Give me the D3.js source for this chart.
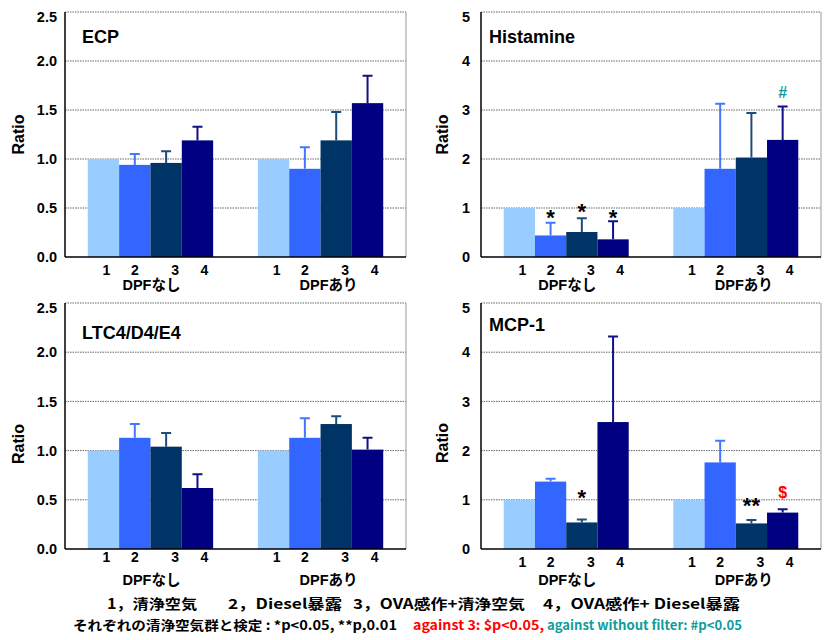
<!DOCTYPE html>
<html>
<head>
<meta charset="utf-8">
<script src="https://cdn.jsdelivr.net/npm/d3@7"></script>
<style>
  body { margin: 0; background: #fff; }
  svg { display: block; font-family: "Liberation Sans", Arial, "Noto Sans CJK JP", sans-serif; font-weight: bold; }
</style>
</head>
<body>
<div id="chart"></div>
<script>
// groups and treatments (1..4)
const groups = ["DPFなし", "DPFあり"];
const treatments = ["1", "2", "3", "4"];

// mean ratio per group, treatments 1..4
const ecpMean = [[1.00, 0.94, 0.96, 1.19], [1.00, 0.90, 1.19, 1.57]];
const ecpErr  = [[0, 0.11, 0.12, 0.14], [0, 0.22, 0.29, 0.28]];

const histMean = [[1.00, 0.44, 0.51, 0.36], [1.00, 1.80, 2.03, 2.39]];
const histErr  = [[0, 0.26, 0.28, 0.37], [0, 1.33, 0.91, 0.68]];

const ltcMean = [[1.00, 1.13, 1.04, 0.62], [1.00, 1.13, 1.27, 1.01]];
const ltcErr  = [[0, 0.14, 0.14, 0.14], [0, 0.20, 0.08, 0.12]];

const mcpMean = [[1.00, 1.37, 0.54, 2.58], [1.00, 1.76, 0.52, 0.74]];
const mcpErr  = [[0, 0.06, 0.06, 1.74], [0, 0.44, 0.07, 0.07]];

// significance marks: [group, treatment, text, level (ratio units), kind]
const histMarks = [[0, 1, "*", 0.90, "p"], [0, 2, "*", 1.04, "p"], [0, 3, "*", 0.90, "p"], [1, 3, "#", 3.35, "filter"]];
const mcpMarks  = [[0, 2, "*", 1.14, "p"], [1, 2, "**", 0.99, "p"], [1, 3, "$", 1.14, "vs3"]];

const barColors = ["#99ccff", "#3366ff", "#003366", "#000080"];
const errColors = ["none", "#4477ff", "#204c78", "#10108a"];
const markColors = { p: "#000", vs3: "#ff0000", filter: "#109c9c" };

// small nudges of the 1..4 labels and the group labels, as in the original
const tickNudge = [3, 0, 9, 7];
const groupNudge = [1, 8];

const panels = [
  { title: "ECP", mean: ecpMean, err: ecpErr, marks: [], yMax: 2.5, ticks: [0, 0.5, 1, 1.5, 2, 2.5], fmt: d3.format(".1f"),
    left: 65, right: 406, top: 12, bottom: 257, titleDx: 17, titleDy: 31, pad: 8, ratioDx: -47, ratioDy: 0, numDy: 18, grpDy: 33 },
  { title: "Histamine", mean: histMean, err: histErr, marks: histMarks, yMax: 5, ticks: [0, 1, 2, 3, 4, 5], fmt: d3.format("d"),
    left: 481, right: 821, top: 12, bottom: 257, titleDx: 8, titleDy: 31, pad: 11, ratioDx: -39, ratioDy: 0, numDy: 18, grpDy: 33 },
  { title: "LTC4/D4/E4", mean: ltcMean, err: ltcErr, marks: [], yMax: 2.5, ticks: [0, 0.5, 1, 1.5, 2, 2.5], fmt: d3.format(".1f"),
    left: 65, right: 406, top: 303, bottom: 549, titleDx: 17, titleDy: 36, pad: 8, ratioDx: -47, ratioDy: 18, numDy: 12.5, grpDy: 36 },
  { title: "MCP-1", mean: mcpMean, err: mcpErr, marks: mcpMarks, yMax: 5, ticks: [0, 1, 2, 3, 4, 5], fmt: d3.format("d"),
    left: 481, right: 821, top: 303, bottom: 549, titleDx: 8, titleDy: 28, pad: 11, ratioDx: -39, ratioDy: 17, numDy: 17.5, grpDy: 36 }
];

const svg = d3.select("#chart").append("svg")
  .attr("width", 829)
  .attr("height", 640);

panels.forEach(p => {
  const w = p.right - p.left, h = p.bottom - p.top;
  const g = svg.append("g").attr("transform", `translate(${p.left},${p.top})`);

  const x0 = d3.scaleBand().domain(groups).range([0, w]).paddingInner(0.263).paddingOuter(0.134);
  const x1 = d3.scaleBand().domain(treatments).range([0, x0.bandwidth()]);
  const y = d3.scaleLinear().domain([0, p.yMax]).range([h, 0]);

  // dotted grid
  g.selectAll(".grid").data(p.ticks.filter(t => t > 0)).enter()
    .append("line")
    .attr("x1", 0).attr("x2", w)
    .attr("y1", d => y(d)).attr("y2", d => y(d))
    .attr("stroke", "#666").attr("stroke-width", 1)
    .attr("stroke-dasharray", "1.5,1");

  // right border
  g.append("line").attr("x1", w).attr("x2", w).attr("y1", 0).attr("y2", h)
    .attr("stroke", "#999").attr("stroke-width", 1);

  // bars
  const rows = [];
  groups.forEach((grp, gi) => treatments.forEach((t, ti) => {
    rows.push({ grp, gi, t, ti, v: p.mean[gi][ti], e: p.err[gi][ti] });
  }));

  g.selectAll(".bar").data(rows).enter()
    .append("rect")
    .attr("x", d => x0(d.grp) + x1(d.t))
    .attr("width", x1.bandwidth())
    .attr("y", d => y(d.v))
    .attr("height", d => h - y(d.v))
    .attr("fill", d => barColors[d.ti]);

  // upper error bars
  const errs = rows.filter(d => d.e > 0);
  const cx = d => x0(d.grp) + x1(d.t) + x1.bandwidth() / 2;
  g.selectAll(".err").data(errs).enter()
    .append("path")
    .attr("d", d => `M${cx(d)},${y(d.v)}V${y(d.v + d.e)}M${cx(d) - 5},${y(d.v + d.e)}H${cx(d) + 5}`)
    .attr("fill", "none")
    .attr("stroke", d => errColors[d.ti])
    .attr("stroke-width", 2);

  // significance marks
  g.selectAll(".mark").data(p.marks).enter()
    .append("text")
    .attr("x", d => x0(groups[d[0]]) + x1(treatments[d[1]]) + x1.bandwidth() / 2)
    .attr("y", d => y(d[3]) + (d[2].startsWith("*") ? 12.5 : 5.5))
    .attr("text-anchor", "middle")
    .attr("font-size", d => d[2].startsWith("*") ? 22 : 16)
    .attr("fill", d => markColors[d[4]])
    .text(d => d[2]);

  // axes
  const ya = g.append("g")
    .call(d3.axisLeft(y).tickValues(p.ticks).tickFormat(p.fmt).tickSize(0).tickPadding(p.pad));
  ya.select(".domain").remove();
  ya.selectAll("text")
    .attr("font-size", 14.5).attr("font-weight", "bold").attr("fill", "#000")
    .attr("font-family", "Liberation Sans, Arial, sans-serif")
    .filter(d => d === p.yMax).attr("dy", "0.32em").attr("transform", "translate(0,4.5)");

  g.append("line").attr("x1", 0).attr("x2", 0).attr("y1", 0).attr("y2", h)
    .attr("stroke", "#000").attr("stroke-width", 1.5);
  g.append("line").attr("x1", 0).attr("x2", w).attr("y1", h).attr("y2", h)
    .attr("stroke", "#000").attr("stroke-width", 1.5);

  // treatment numbers and group names
  g.selectAll(".num").data(rows).enter()
    .append("text")
    .attr("x", d => cx(d) + tickNudge[d.ti])
    .attr("y", h + p.numDy)
    .attr("text-anchor", "middle")
    .attr("font-size", 14)
    .text(d => d.t);

  g.selectAll(".grp").data(groups).enter()
    .append("text")
    .attr("x", (d, i) => x0(d) + x0.bandwidth() / 2 + groupNudge[i])
    .attr("y", h + p.grpDy)
    .attr("text-anchor", "middle")
    .attr("font-size", 14.5)
    .text(d => d);

  // title and y label
  g.append("text")
    .attr("x", p.titleDx).attr("y", p.titleDy)
    .attr("font-size", 18)
    .text(p.title);

  g.append("text")
    .attr("transform", `translate(${p.ratioDx},${h / 2 + p.ratioDy}) rotate(-90)`)
    .attr("text-anchor", "middle")
    .attr("dy", "0.35em")
    .attr("font-size", 16)
    .text("Ratio");
});

// footnotes
const legendLine1 = [
  ["1，清浄空気", 107, 90],
  ["2，Diesel暴露", 228, 114],
  ["3，OVA感作+清浄空気", 353, 172],
  ["4，OVA感作+ Diesel暴露", 543, 197]
];
const legendLine2 = [
  ["それぞれの清浄空気群と検定 : *p<0.05, **p,0.01", 73, 324, "#000"],
  ["against  3: $p<0.05,", 413, 131, markColors.vs3],
  ["against without filter: #p<0.05", 547, 195, markColors.filter]
];

svg.selectAll(".leg1").data(legendLine1).enter()
  .append("text")
  .attr("x", d => d[1]).attr("y", 609)
  .attr("font-family", "'Noto Sans CJK JP', sans-serif")
  .attr("font-size", 14)
  .attr("textLength", d => d[2]).attr("lengthAdjust", "spacingAndGlyphs")
  .text(d => d[0]);

svg.selectAll(".leg2").data(legendLine2).enter()
  .append("text")
  .attr("x", d => d[1]).attr("y", 630)
  .attr("font-family", "'Noto Sans CJK JP', sans-serif")
  .attr("font-size", 13)
  .attr("fill", d => d[3])
  .attr("textLength", d => d[2]).attr("lengthAdjust", "spacingAndGlyphs")
  .text(d => d[0]);
</script>
</body>
</html>
